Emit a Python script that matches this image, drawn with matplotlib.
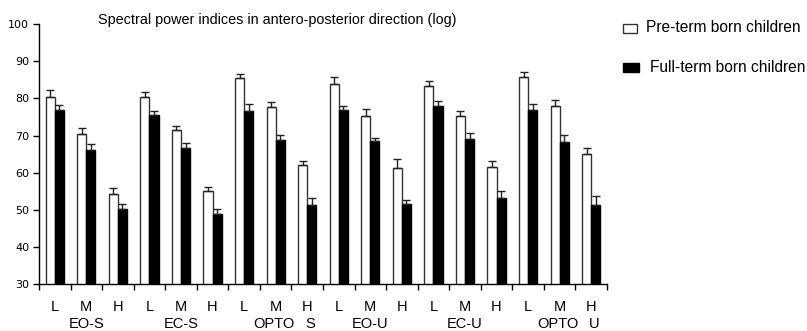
import numpy as np
import matplotlib.pyplot as plt
from matplotlib.patches import Rectangle

plt.rcParams['font.family'] = ['Liberation Sans', 'DejaVu Sans']

groups = ['EO-S', 'EC-S', 'OPTO S', 'EO-U', 'EC-U', 'OPTO U']
bands = ['L', 'M', 'H']

# pre-term (white) and full-term (black), means and upper error
pre_mean = [80.5, 70.5, 54.4, 80.4, 71.5, 55.1, 85.6, 77.7, 62.1,
            83.9, 75.3, 61.4, 83.3, 75.2, 61.5, 85.8, 78.0, 65.0]
pre_err = [1.7, 1.6, 1.6, 1.4, 1.1, 1.0, 1.0, 1.4, 1.0,
           1.9, 1.9, 2.3, 1.4, 1.4, 1.7, 1.3, 1.5, 1.6]
full_mean = [77.0, 66.0, 50.3, 75.4, 66.7, 48.8, 76.7, 68.8, 51.2,
             77.0, 68.6, 51.5, 78.0, 69.1, 53.2, 77.0, 68.3, 51.3]
full_err = [1.1, 1.6, 1.2, 1.2, 1.2, 1.5, 1.9, 1.4, 2.0,
            1.0, 0.7, 1.1, 1.3, 1.6, 1.9, 1.6, 1.9, 2.4]

fig = plt.figure(figsize=(8.07, 3.31), dpi=100)
ax = fig.add_axes([39 / 807, 1 - 284.3 / 331, (607 - 39) / 807, (284.3 - 24) / 331])

x = np.arange(len(pre_mean))
w = 0.29
ekw = dict(ecolor='#222222', elinewidth=1.0, capsize=3, capthick=1.0)
ax.bar(x - w / 2, pre_mean, w, color='white', edgecolor='#333333',
       linewidth=1.0, yerr=[np.zeros(len(x)), pre_err], error_kw=ekw)
ax.bar(x + w / 2, full_mean, w, color='black', edgecolor='black',
       linewidth=1.0, yerr=[np.zeros(len(x)), full_err], error_kw=ekw)

ax.set_ylim(30, 100)
ax.set_xlim(-0.5, len(x) - 0.5)
ax.set_yticks(range(30, 101, 10))
ax.tick_params(axis='y', labelsize=8, length=4, width=1, direction='out', pad=3)
for lab in ax.get_yticklabels():
    lab.set_family('DejaVu Sans')

ax.set_xticks(x)
ax.set_xticklabels(bands * len(groups), fontsize=10.5)
ax.tick_params(axis='x', length=0, pad=11)
ax.set_xticks(np.arange(-0.5, len(x), 1), minor=True)
ax.tick_params(axis='x', which='minor', length=4, width=1, direction='out')

for s in ['top', 'right']:
    ax.spines[s].set_visible(False)
for s in ['left', 'bottom']:
    ax.spines[s].set_linewidth(1.0)

# group labels
ly = -0.125
for i, g in enumerate(groups):
    parts = g.split(' ')
    if len(parts) == 1:
        ax.text(3 * i + 1, ly, g, transform=ax.get_xaxis_transform(),
                ha='center', va='top', fontsize=10.5)
    else:
        ax.text(3 * i + 0.95, ly, parts[0], transform=ax.get_xaxis_transform(),
                ha='center', va='top', fontsize=10.5)
        ax.text(3 * i + 2.1, ly, parts[1], transform=ax.get_xaxis_transform(),
                ha='center', va='top', fontsize=10.5)

fig.text(277 / 807, 1 - 20 / 331, 'Spectral power indices in antero-posterior direction (log)',
         ha='center', va='center', fontsize=10.4)

# legend drawn by hand
fig.patches.append(Rectangle((623 / 807, 1 - 33 / 331), 14 / 807, 9 / 331,
                             transform=fig.transFigure, facecolor='white',
                             edgecolor='#333333', linewidth=1.0))
fig.patches.append(Rectangle((623 / 807, 1 - 72 / 331), 16 / 807, 9 / 331,
                             transform=fig.transFigure, facecolor='black',
                             edgecolor='black', linewidth=1.0))
fig.text(646 / 807, 1 - 28 / 331, 'Pre-term born children', ha='left', va='center', fontsize=11.2)
fig.text(650 / 807, 1 - 67 / 331, 'Full-term born children', ha='left', va='center', fontsize=11.2)

fig.savefig('out.png', dpi=100)
